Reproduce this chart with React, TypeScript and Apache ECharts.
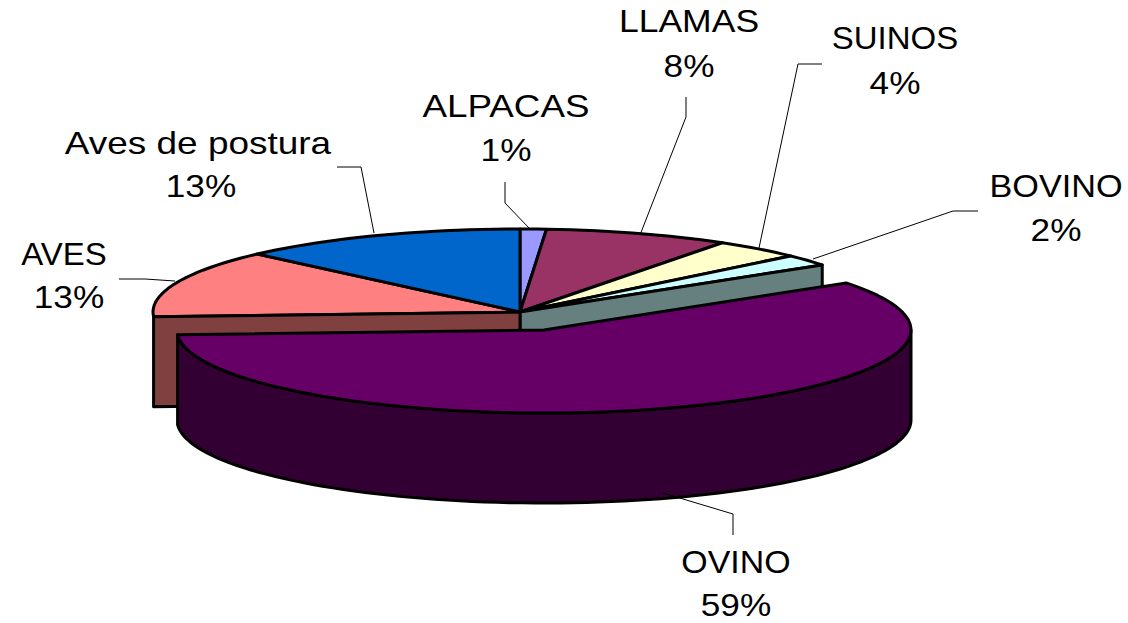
import React, { useEffect, useRef } from "react";
import * as echarts from "echarts";

const names = ["ALPACAS", "LLAMAS", "SUINOS", "BOVINO", "OVINO", "AVES", "Aves de postura"];
const shares = [1.15, 8.15, 3.9, 2.2, 58.7, 13.2, 12.7];
const topColors = ["#9999FF", "#993366", "#FFFFCC", "#CCFFFF", "#660066", "#FF8080", "#0066CC"];
const wallColors = ["#4C4C80", "#4C1933", "#808066", "#668080", "#330033", "#804040", "#003366"];

const nameCentres = [[506, 106], [689, 21], [895, 38], [1056, 186], [736, 562], [64, 254], [198, 143]];
const percentCentres = [[506, 150], [689, 66], [895, 83], [1056, 230], [736, 605], [69, 297], [201, 186]];
const nameStretch = [1.15, 1.11, 1.03, 1.07, 1.06, 1.03, 1.155];
const leaders = [
  [[505, 182], [505, 203], [530, 229]],
  [[686, 97], [686, 117], [640, 235]],
  [[822, 64], [798, 64], [759, 248]],
  [[978, 211], [953, 211], [813, 259]],
  [[733, 535], [733, 514], [663, 493]],
  [[119, 279], [145, 279], [175, 281]],
  [[337, 167], [361, 167], [374, 233]],
];

const CX = 520, CY = 312, RX = 367, RY = 83, DEPTH = 90;
const EXPLODE_X = 24, EXPLODE_Y = 18;
const FONT = '32px "Liberation Sans", Arial, sans-serif';

const arc = (cx: number, cy: number, from: number, to: number, dy = 0) => {
  const pts: number[][] = [];
  const n = Math.max(2, Math.ceil((to - from) / 2));
  for (let i = 0; i <= n; i++) {
    const t = ((from + ((to - from) * i) / n) * Math.PI) / 180;
    pts.push([cx + RX * Math.sin(t), cy - RY * Math.cos(t) + dy]);
  }
  return pts;
};

const renderItem = (params: any, api: any) => {
  const i = params.dataIndex;
  const total = shares.reduce((a, b) => a + b, 0);
  const before = shares.slice(0, i).reduce((a, b) => a + b, 0);
  const from = (before / total) * 360;
  const to = ((before + api.value(0)) / total) * 360;
  const exploded = names[i] === "OVINO";
  const cx = exploded ? CX + EXPLODE_X : CX;
  const cy = exploded ? CY + EXPLODE_Y : CY;
  const outline = { stroke: "#000", lineWidth: 3, lineJoin: "round" };
  const children: any[] = [];
  const top = arc(cx, cy, from, to);
  const face = (p: number[]) => [[cx, cy], p, [p[0], p[1] + DEPTH], [cx, cy + DEPTH]];

  if (exploded) {
    const front = Math.max(from, 90);
    const upper = arc(cx, cy, front, to);
    const lower = arc(cx, cy, front, to, DEPTH).reverse();
    children.push({
      type: "polygon", z2: 30,
      shape: { points: [...upper, ...lower] },
      style: { fill: wallColors[i], ...outline },
    });
  }
  // cut faces beside the pulled-out slice
  if (names[i] === "BOVINO") {
    children.push({
      type: "polygon", z2: 20,
      shape: { points: face(top[top.length - 1]) },
      style: { fill: wallColors[i], ...outline },
    });
  }
  if (names[i] === "AVES") {
    children.push({
      type: "polygon", z2: 20,
      shape: { points: face(top[0]) },
      style: { fill: wallColors[i], ...outline },
    });
  }
  children.push({
    type: "polygon", z2: exploded ? 40 : 10,
    shape: { points: [[cx, cy], ...top] },
    style: { fill: topColors[i], ...outline },
  });
  children.push({
    type: "polyline", z2: 50,
    shape: { points: leaders[i] },
    style: { fill: null, stroke: "#000", lineWidth: 1 },
  });
  const rows: any[] = [
    [names[i], nameCentres[i], nameStretch[i]],
    [`${Math.round(api.value(0))}%`, percentCentres[i], 1.1],
  ];
  rows.forEach(([text, [x, y], sx]: any) => {
    children.push({
      type: "text", z2: 60, x, y, scaleX: sx,
      style: { text, x: 0, y: 0, font: FONT, fill: "#000", textAlign: "center", textVerticalAlign: "middle" },
    });
  });
  return { type: "group", children };
};

export default function App() {
  const ref = useRef<HTMLDivElement>(null);
  useEffect(() => {
    const chart = echarts.init(ref.current!, undefined, { renderer: "svg" });
    chart.setOption({
      animation: false,
      backgroundColor: "#fff",
      series: [{
        type: "custom",
        coordinateSystem: "none",
        renderItem,
        silent: true,
        data: shares.map((v, i) => ({ name: names[i], value: [v] })),
      }],
    });
    return () => chart.dispose();
  }, []);
  return <div ref={ref} style={{ position: "absolute", left: 0, top: 0, width: 1128, height: 623 }} />;
}
